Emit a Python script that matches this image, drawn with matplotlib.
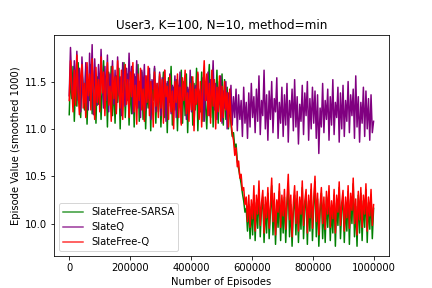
"""Episode value curves for User3 (K=100, N=10, method=min)."""

import matplotlib
matplotlib.use("Agg")
import matplotlib.pyplot as plt
import numpy as np

# smoothed episode values, one sample every ~4200 episodes
sarsa_values = [
    11.15, 11.58, 11.32, 11.66, 11.08, 11.50, 11.24, 11.70, 11.36, 11.12, 11.60, 11.40,
    11.20, 11.64, 11.05, 11.52, 11.30, 11.68, 11.16, 11.44, 11.62, 11.06, 11.55, 11.26,
    11.58, 11.10, 11.46, 11.72, 11.22, 11.54, 11.02, 11.60, 11.34, 11.66, 11.14, 11.48,
    11.06, 11.56, 11.28, 11.64, 11.00, 11.50, 11.38, 11.70, 11.12, 11.44, 11.58, 11.04,
    11.48, 11.16, 11.62, 11.02, 11.55, 11.26, 11.68, 11.08, 11.40, 11.60, 11.10, 11.52,
    11.00, 11.44, 11.22, 11.58, 10.98, 11.50, 11.30, 11.64, 11.06, 11.46, 11.18, 11.56,
    11.02, 11.40, 11.60, 11.12, 11.48, 10.96, 11.54, 11.28, 11.66, 11.04, 11.44, 11.20,
    11.52, 10.98, 11.46, 11.24, 11.62, 11.06, 11.50, 11.14, 11.58, 10.96, 11.42, 11.30,
    11.55, 11.04, 11.48, 11.20, 11.64, 10.98, 11.40, 11.18, 11.60, 11.08, 11.52, 11.26,
    11.00, 11.46, 11.68, 11.12, 11.56, 11.02, 11.44, 11.22, 11.62, 11.06, 11.50, 11.16,
    11.58, 11.04, 11.52, 11.10, 11.44, 11.00, 11.30, 11.05, 10.92, 10.96, 10.80, 10.84,
    10.66, 10.58, 10.50, 10.42, 10.32, 10.24, 10.12, 10.16, 9.92, 10.20, 9.84, 10.18,
    9.88, 10.30, 9.82, 10.22, 9.95, 10.36, 9.86, 10.15, 10.28, 9.80, 10.20, 9.90,
    10.32, 9.84, 10.12, 10.40, 9.88, 10.24, 9.78, 10.18, 9.96, 10.34, 9.82, 10.22,
    9.90, 10.28, 9.80, 10.16, 10.42, 9.86, 10.20, 9.76, 10.14, 10.30, 9.88, 10.26,
    9.80, 10.20, 9.94, 10.38, 9.84, 10.16, 10.30, 9.78, 10.24, 9.92, 10.36, 9.82,
    10.18, 10.44, 9.86, 10.26, 9.76, 10.12, 10.32, 9.84, 10.20, 9.80, 10.28, 9.96,
    10.34, 9.82, 10.16, 9.90, 10.30, 9.76, 10.22, 9.98, 10.38, 9.84, 10.14, 10.28,
    9.80, 10.20, 9.92, 10.34, 9.78, 10.26, 10.00, 10.42, 9.86, 10.18, 9.76, 10.30,
    9.90, 10.32, 9.82, 10.24, 9.96, 10.36, 9.80, 10.22, 9.94, 10.30, 9.84, 10.16,
]

slateq_values = [
    11.35, 11.86, 11.50, 11.24, 11.72, 11.40, 11.82, 11.30, 11.64, 11.18, 11.76, 11.45,
    11.28, 11.70, 11.52, 11.20, 11.80, 11.38, 11.89, 11.15, 11.74, 11.42, 11.25, 11.68,
    11.34, 11.84, 11.46, 11.22, 11.66, 11.30, 11.78, 11.18, 11.58, 11.40, 11.72, 11.26,
    11.62, 11.20, 11.76, 11.36, 11.55, 11.14, 11.70, 11.42, 11.24, 11.64, 11.30, 11.80,
    11.40, 11.66, 11.16, 11.58, 11.34, 11.72, 11.22, 11.50, 11.12, 11.62, 11.38, 11.68,
    11.20, 11.56, 11.32, 11.64, 11.10, 11.52, 11.42, 11.66, 11.18, 11.48, 11.28, 11.60,
    11.14, 11.54, 11.36, 11.62, 11.08, 11.50, 11.24, 11.58, 11.16, 11.46, 11.30, 11.56,
    11.12, 11.52, 11.26, 11.60, 11.06, 11.48, 11.34, 11.56, 11.10, 11.44, 11.22, 11.62,
    11.18, 11.50, 11.04, 11.46, 11.28, 11.58, 11.12, 11.42, 11.24, 11.54, 11.08, 11.48,
    11.30, 11.60, 11.14, 11.52, 11.36, 11.72, 11.20, 11.48, 11.10, 11.44, 11.26, 11.56,
    11.06, 11.40, 11.22, 11.50, 11.00, 11.38, 11.16, 11.46, 11.04, 11.34, 11.12, 11.42,
    10.98, 11.36, 11.10, 11.30, 10.92, 11.44, 11.06, 11.28, 10.90, 11.38, 11.02, 11.48,
    11.12, 11.34, 10.96, 11.42, 11.08, 11.56, 10.94, 11.30, 11.14, 11.62, 11.00, 11.36,
    10.88, 11.40, 11.10, 11.50, 10.96, 11.32, 11.18, 11.54, 10.90, 11.28, 11.06, 11.44,
    10.92, 11.36, 11.04, 11.48, 10.86, 11.30, 11.12, 11.42, 10.98, 11.52, 11.02, 11.34,
    10.84, 11.26, 11.08, 11.46, 10.94, 11.38, 11.14, 11.50, 10.88, 11.32, 11.00, 11.44,
    11.06, 11.40, 10.90, 11.36, 10.74, 11.22, 11.02, 11.48, 10.96, 11.30, 11.10, 11.42,
    10.88, 11.34, 11.04, 11.52, 10.94, 11.28, 11.12, 11.44, 10.86, 11.38, 11.00, 11.46,
    10.92, 11.30, 11.08, 11.50, 10.96, 11.36, 11.14, 11.42, 10.90, 11.56, 11.02, 11.34,
    10.86, 11.28, 11.06, 11.44, 10.92, 11.40, 11.00, 11.32, 10.88, 11.36, 10.96, 11.08,
]

slatefree_q_values = [
    11.30, 11.72, 11.45, 11.18, 11.62, 11.25, 11.78, 11.40, 11.15, 11.55, 11.68, 11.22,
    11.48, 11.12, 11.70, 11.35, 11.58, 11.20, 11.74, 11.42, 11.10, 11.65, 11.28, 11.52,
    11.18, 11.76, 11.38, 11.60, 11.14, 11.50, 11.70, 11.25, 11.45, 11.08, 11.66, 11.32,
    11.55, 11.16, 11.72, 11.40, 11.22, 11.62, 11.10, 11.48, 11.68, 11.26, 11.52, 11.12,
    11.60, 11.34, 11.70, 11.18, 11.46, 11.05, 11.58, 11.30, 11.64, 11.20, 11.42, 11.08,
    11.56, 11.28, 11.66, 11.14, 11.50, 11.36, 11.02, 11.60, 11.24, 11.48, 11.12, 11.58,
    11.22, 11.52, 11.06, 11.62, 11.34, 11.45, 11.10, 11.56, 11.18, 11.40, 11.00, 11.50,
    11.28, 11.58, 11.12, 11.44, 11.04, 11.54, 11.30, 11.62, 11.16, 11.38, 11.08, 11.48,
    11.20, 11.55, 10.98, 11.42, 11.26, 11.60, 11.10, 11.50, 11.02, 11.46, 11.72, 11.30,
    11.58, 11.14, 11.48, 11.06, 11.62, 11.24, 11.52, 11.00, 11.44, 11.18, 11.56, 11.08,
    11.45, 11.12, 11.50, 11.20, 11.38, 11.02, 11.42, 11.10, 10.95, 10.88, 10.72, 10.80,
    10.60, 10.66, 10.48, 10.52, 10.35, 10.38, 10.20, 10.28, 10.02, 10.30, 9.96, 10.25,
    10.05, 10.40, 9.92, 10.30, 10.10, 10.45, 9.98, 10.22, 10.35, 9.90, 10.28, 10.06,
    10.38, 9.95, 10.20, 10.48, 10.02, 10.32, 9.88, 10.25, 10.12, 10.42, 9.96, 10.30,
    10.08, 10.36, 9.94, 10.26, 10.52, 10.04, 10.30, 9.86, 10.22, 10.40, 10.00, 10.34,
    9.92, 10.28, 10.10, 10.45, 9.98, 10.24, 10.36, 9.90, 10.30, 10.06, 10.42, 9.95,
    10.26, 10.50, 10.02, 10.32, 9.88, 10.20, 10.38, 10.00, 10.28, 9.94, 10.34, 10.10,
    10.40, 9.96, 10.24, 10.05, 10.36, 9.90, 10.30, 10.12, 10.44, 9.98, 10.22, 10.35,
    9.92, 10.28, 10.06, 10.40, 9.95, 10.32, 10.14, 10.48, 10.00, 10.26, 9.88, 10.34,
    10.04, 10.38, 9.96, 10.30, 10.10, 10.42, 9.92, 10.28, 10.08, 10.36, 9.98, 10.20,
]

total_episodes = 1000000
episodes = np.linspace(0, total_episodes, len(sarsa_values))

fig, ax = plt.subplots(figsize=(6, 4), dpi=72)
ax.plot(episodes, sarsa_values, color="green", label="SlateFree-SARSA")
ax.plot(episodes, slateq_values, color="purple", label="SlateQ")
ax.plot(episodes, slatefree_q_values, color="red", label="SlateFree-Q")

ax.ticklabel_format(axis="x", style="plain")
ax.set_title("User3, K=100, N=10, method=min")
ax.set_xlabel("Number of Episodes")
ax.set_ylabel("Episode Value (smoothed 1000)")
leg = ax.legend(loc="lower left")
# legend swatches are a touch lighter than the dense curves in the reference
for handle in leg.get_lines():
    handle.set_alpha(0.8)

fig.savefig("out.png", dpi=72)
